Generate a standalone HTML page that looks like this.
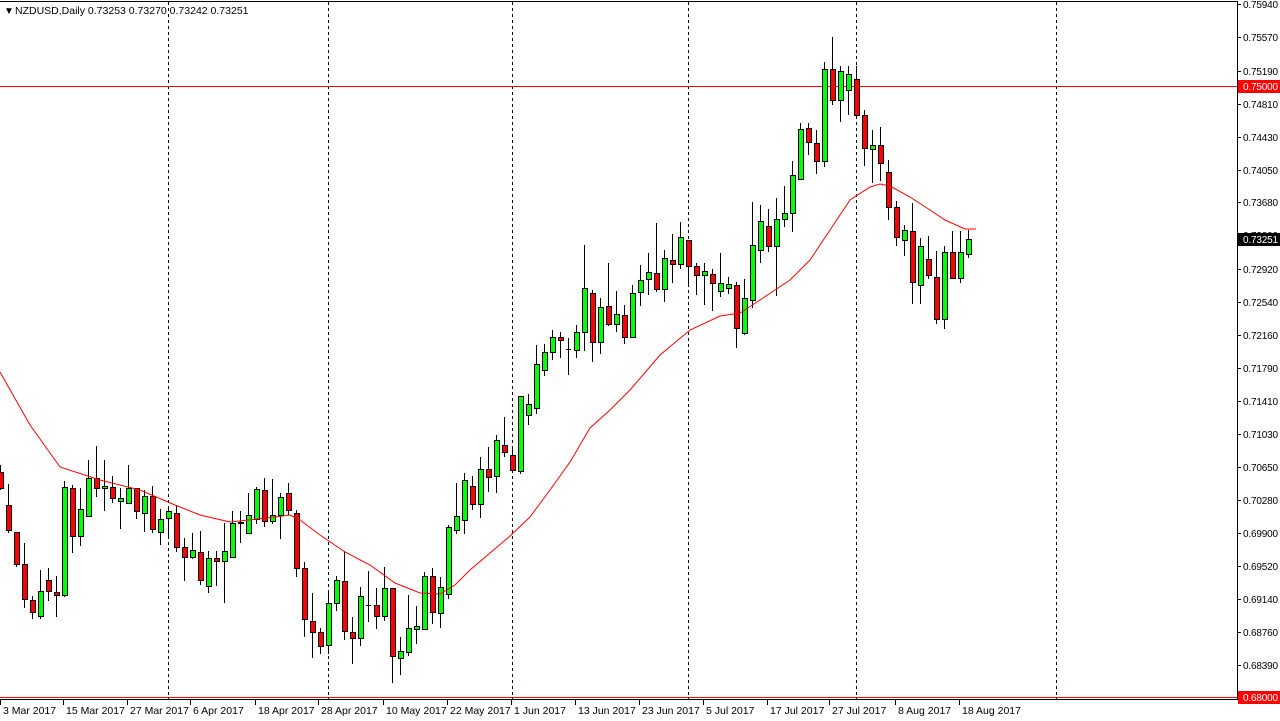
<!DOCTYPE html>
<html><head><meta charset="utf-8">
<style>
html,body{margin:0;padding:0;background:#fff;width:1280px;height:721px;overflow:hidden}
svg{display:block}
text{font-family:"Liberation Sans",sans-serif;font-size:10.5px;fill:#000}
text.a{font-size:10px}
</style></head><body>
<svg id="s" width="1280" height="721" xmlns="http://www.w3.org/2000/svg" shape-rendering="crispEdges">
<rect x="0" y="0" width="1280" height="721" fill="#fff"/>
<line x1="0" y1="1.5" x2="1237" y2="1.5" stroke="#000"/>
<line x1="1237.5" y1="1" x2="1237.5" y2="700" stroke="#000"/>
<line x1="0" y1="699.5" x2="1237" y2="699.5" stroke="#000"/>
<g stroke="#000" stroke-dasharray="3,3">
<line x1="168.5" y1="2" x2="168.5" y2="699"/>
<line x1="328.5" y1="2" x2="328.5" y2="699"/>
<line x1="512.5" y1="2" x2="512.5" y2="699"/>
<line x1="688.5" y1="2" x2="688.5" y2="699"/>
<line x1="856.5" y1="2" x2="856.5" y2="699"/>
<line x1="1056.5" y1="2" x2="1056.5" y2="699"/>
</g>
<line x1="0" y1="86.5" x2="1237" y2="86.5" stroke="#f00"/>
<line x1="0" y1="697.5" x2="1237" y2="697.5" stroke="#f00"/>
<g id="c"></g>
<polyline fill="none" stroke="#f00" stroke-width="1" shape-rendering="auto" points="0,372 30,425 60,467 100,480 140,490 175,505 200,515 230,522 275,517 290,515 300,520 320,535 345,552 370,565 395,583 420,593 440,594 455,585 470,570 490,553 510,536 530,517 550,490 570,462 590,428 610,410 630,390 660,355 690,330 720,316 740,313 760,300 790,280 810,260 830,230 850,200 870,187 880,184 890,186 910,197 930,210 945,220 965,229 976,229"/>
<g id="ax"></g>
<text x="4" y="14" style="font-size:10px">▼</text>
<text x="15" y="14">NZDUSD,Daily  0.73253 0.73270 0.73242 0.73251</text>
</svg>
<script>
var d=[[0,472,488,465,490],[8,505,530,484,533],[16,532,564,532,567],[24,564,599,543,608],[32,600,612,596,619],[40,616,591,570,619],[48,580,591,568,601],[56,592,595,576,617],[64,595,487,481,597],[72,488,536,485,553],[80,536,509,488,546],[88,516,478,460,516],[96,478,488,446,497],[104,488,486,460,511],[112,487,498,476,503],[120,501,498,488,529],[128,503,488,465,503],[136,488,511,488,519],[144,513,496,490,532],[152,496,529,486,533],[160,532,519,509,545],[168,518,511,509,539],[176,513,547,505,552],[184,547,557,538,581],[192,557,550,533,559],[200,552,580,531,585],[208,586,558,551,593],[216,558,561,551,586],[224,561,551,523,603],[232,557,523,511,557],[240,523,522,511,543],[248,533,515,493,533],[256,519,489,487,524],[264,490,521,478,527],[272,521,515,479,524],[280,515,497,493,539],[288,493,510,483,515],[296,513,568,510,577],[304,568,619,562,637],[312,621,632,593,658],[320,632,646,628,654],[328,645,603,591,654],[336,603,580,576,611],[344,581,631,551,640],[352,632,638,617,664],[360,638,596,587,646],[368,605,605,571,622],[376,605,616,588,629],[384,616,588,567,621],[392,588,656,588,683],[400,658,651,637,675],[408,652,628,595,656],[416,629,626,606,644],[424,629,576,572,629],[432,576,612,568,624],[440,613,587,577,628],[448,594,527,525,599],[456,530,516,483,534],[464,520,480,473,534],[472,486,504,476,510],[480,504,469,457,518],[488,469,477,447,492],[496,476,440,435,493],[504,445,452,417,457],[512,455,470,447,473],[520,471,396,396,474],[528,415,404,394,425],[536,408,364,345,414],[544,370,352,344,376],[552,352,337,330,360],[560,337,340,332,358],[568,349,349,338,375],[576,350,332,325,358],[584,332,288,245,351],[592,293,342,290,362],[600,342,307,298,354],[608,306,324,263,326],[616,324,314,291,332],[624,315,337,305,344],[632,337,293,285,337],[640,292,280,265,306],[648,279,272,253,295],[656,273,289,223,292],[664,289,258,250,302],[672,260,264,234,283],[680,264,237,222,269],[688,240,266,240,286],[696,266,275,263,295],[704,275,271,263,305],[712,274,283,269,311],[720,291,283,253,297],[728,288,284,277,294],[736,285,328,282,348],[744,333,298,279,335],[752,300,245,202,308],[760,250,221,205,263],[768,226,246,209,252],[776,246,219,198,296],[784,219,213,186,227],[792,213,175,161,232],[800,179,129,123,180],[808,128,142,123,155],[816,143,161,130,174],[824,161,69,62,167],[832,69,100,37,105],[840,100,71,66,122],[848,90,74,66,115],[856,79,115,66,117],[864,115,148,110,166],[872,149,145,130,183],[880,145,163,127,181],[888,172,207,160,220],[896,207,237,201,246],[904,240,230,225,256],[912,231,282,203,304],[920,285,246,238,304],[928,259,275,236,279],[936,277,319,251,324],[944,319,252,246,329],[952,252,278,231,279],[960,278,252,231,283],[968,254,239,230,258]];
var h='';
d.forEach(function(a){var x=a[0],o=a[1],c=a[2];
h+='<line x1="'+(x+.5)+'" y1="'+a[3]+'" x2="'+(x+.5)+'" y2="'+a[4]+'" stroke="#000"/>';
var t=Math.min(o,c),b=Math.max(o,c);
if(b-t<1){h+='<line x1="'+(x-2)+'" y1="'+(t+.5)+'" x2="'+(x+3)+'" y2="'+(t+.5)+'" stroke="#000"/>';}
else h+='<rect x="'+(x-2+.5)+'" y="'+(t+.5)+'" width="5" height="'+(b-t)+'" fill="'+(c<o?'#00ff00':'#ff0000')+'" stroke="#000"/>';});
document.getElementById('c').innerHTML=h;
var ax='';
var L=[['0.75940',4],['0.75570',37],['0.75190',71],['0.74810',104],['0.74430',137],['0.74050',170],['0.73680',202],['0.73300',235],['0.72920',269],['0.72540',302],['0.72160',335],['0.71790',368],['0.71410',401],['0.71030',434],['0.70650',467],['0.70280',500],['0.69900',533],['0.69520',566],['0.69140',599],['0.68760',632],['0.68390',665]];
L.forEach(function(l){ax+='<line x1="1237" y1="'+(l[1]+.5)+'" x2="1241" y2="'+(l[1]+.5)+'" stroke="#000"/><text class="a" x="1243" y="'+(l[1]+4)+'" textLength="35">'+l[0]+'</text>';});
function lab(t,y,bg,fg){ax+='<rect x="1238" y="'+(y-6)+'" width="42" height="13" fill="'+bg+'"/><text class="a" x="1243" y="'+(y+4)+'" textLength="35" style="fill:'+fg+'">'+t+'</text>';}
lab('0.75000',86,'#ff0000','#fff');lab('0.73251',239,'#000','#fff');lab('0.68000',697,'#ff0000','#fff');
var D=[['3 Mar 2017',0],['15 Mar 2017',63],['27 Mar 2017',127],['6 Apr 2017',190],['18 Apr 2017',255],['28 Apr 2017',318],['10 May 2017',383],['22 May 2017',447],['1 Jun 2017',511],['13 Jun 2017',575],['23 Jun 2017',639],['5 Jul 2017',703],['17 Jul 2017',767],['27 Jul 2017',829],['8 Aug 2017',895],['18 Aug 2017',959]];
D.forEach(function(e){ax+='<line x1="'+(e[1]+.5)+'" y1="700" x2="'+(e[1]+.5)+'" y2="705" stroke="#000"/><text x="'+(e[1]+3)+'" y="714">'+e[0]+'</text>';});
document.getElementById('ax').innerHTML=ax;
</script>
</body></html>
